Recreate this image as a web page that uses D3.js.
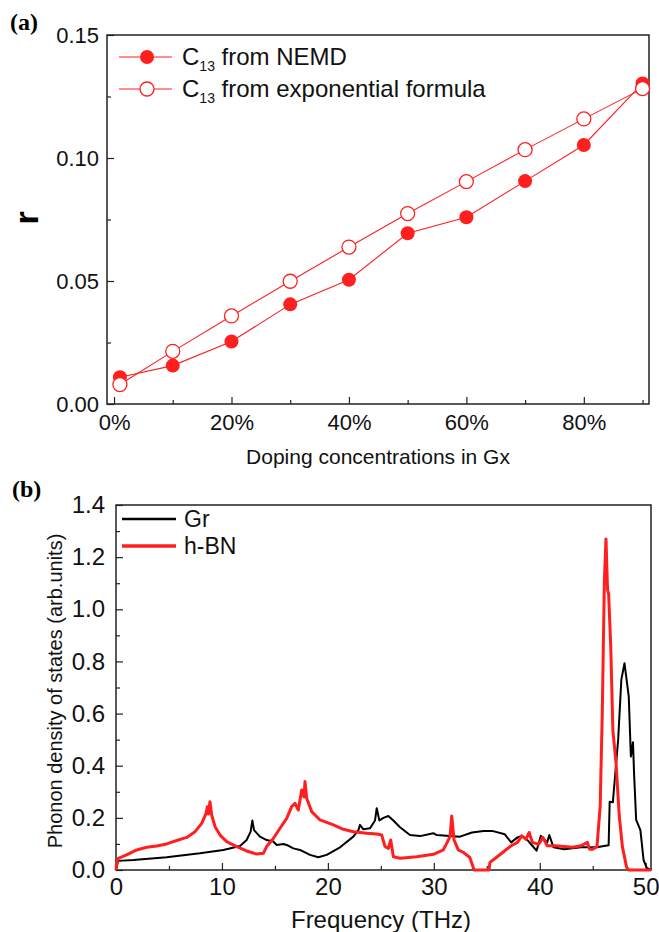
<!DOCTYPE html>
<html>
<head>
<meta charset="utf-8">
<script src="https://cdn.jsdelivr.net/npm/d3@7"></script>
<style>
  html, body { margin: 0; padding: 0; background: #fff; }
  svg { display: block; font-family: "Liberation Sans", Arial, sans-serif; }
</style>
</head>
<body>
<svg id="chart" width="659" height="932"></svg>
<script>
// ---- panel (a) data
const dopingPct = [1, 10, 20, 30, 40, 50, 60, 70, 80, 90];
const c13Nemd = [0.0109, 0.0156, 0.0254, 0.0405, 0.0505, 0.0694, 0.0759, 0.0906, 0.1053, 0.1303];
const c13Exp = [0.0079, 0.0214, 0.0358, 0.0499, 0.0638, 0.0774, 0.0904, 0.1034, 0.1159, 0.1282];
const pctTicks = [0, 20, 40, 60, 80];
const pctMinor = [10, 30, 50, 70, 90];
const rTicks = [0, 0.05, 0.10, 0.15];
const rMinor = [0.025, 0.075, 0.125];

// ---- panel (b) data (phonon DOS)
const grFreq = [0, 0.2, 1.64, 4.78, 7.93, 10.13, 11.71, 12.33, 12.71, 12.87, 13.03, 13.59, 14.22, 14.85, 15.17, 15.8, 16.11, 16.74, 17.37, 18.31, 19.1, 19.89, 21.15, 22.4, 22.88, 23.03, 23.35, 23.98, 24.45, 24.61, 24.86, 25.24, 25.71, 26.18, 26.81, 27.75, 28.7, 29.96, 30.27, 32.47, 33.6, 34.7, 35.5, 36.7, 37.3, 37.9, 38.3, 38.9, 39.3, 39.7, 40.1, 40.7, 40.9, 41.3, 42.3, 43.9, 45.4, 46.2, 46.5, 46.6, 46.9, 47.4, 47.7, 48.0, 48.4, 48.6, 48.8, 48.9, 49.1, 49.5, 49.8, 50.1, 50.5];
const grDos = [0, 0.035, 0.038, 0.049, 0.064, 0.077, 0.092, 0.115, 0.147, 0.19, 0.153, 0.128, 0.115, 0.109, 0.096, 0.1, 0.096, 0.083, 0.077, 0.058, 0.049, 0.058, 0.087, 0.128, 0.153, 0.173, 0.156, 0.16, 0.19, 0.237, 0.19, 0.2, 0.207, 0.19, 0.164, 0.134, 0.13, 0.141, 0.134, 0.128, 0.144, 0.15, 0.15, 0.137, 0.106, 0.125, 0.131, 0.112, 0.093, 0.074, 0.131, 0.106, 0.134, 0.087, 0.08, 0.087, 0.087, 0.093, 0.095, 0.262, 0.26, 0.5, 0.73, 0.793, 0.665, 0.435, 0.49, 0.372, 0.192, 0.153, 0.038, 0.008, 0];
const bnFreq = [0, 0.06, 0.22, 1.0, 1.95, 2.9, 3.84, 4.78, 5.73, 6.67, 7.46, 8.09, 8.5, 8.62, 8.72, 8.87, 9.03, 9.35, 9.82, 10.45, 11.39, 12.33, 13.28, 13.91, 14.22, 14.85, 15.48, 16.11, 16.58, 16.9, 17.21, 17.53, 17.75, 17.84, 18.0, 18.47, 19.26, 20.52, 21.46, 22.4, 23.66, 24.61, 25.08, 25.39, 25.71, 25.93, 26.18, 26.81, 28.38, 29.96, 30.9, 31.53, 31.69, 31.91, 32.31, 32.8, 33.4, 33.8, 35.2, 35.3, 35.9, 36.7, 37.3, 37.9, 38.3, 38.7, 39.0, 39.3, 39.9, 40.3, 40.7, 41.5, 43.1, 43.9, 44.5, 44.7, 45.0, 45.4, 45.7, 45.9, 46.1, 46.25, 46.4, 46.5, 46.7, 46.9, 47.2, 47.5, 47.8, 48.2, 48.4, 50.5];
const bnDos = [0, 0.026, 0.045, 0.058, 0.077, 0.087, 0.092, 0.1, 0.113, 0.125, 0.147, 0.179, 0.217, 0.243, 0.215, 0.262, 0.211, 0.166, 0.134, 0.109, 0.09, 0.073, 0.061, 0.064, 0.09, 0.121, 0.16, 0.198, 0.243, 0.256, 0.23, 0.307, 0.28, 0.339, 0.275, 0.224, 0.192, 0.173, 0.156, 0.147, 0.141, 0.138, 0.134, 0.09, 0.083, 0.115, 0.051, 0.045, 0.051, 0.06, 0.077, 0.128, 0.207, 0.115, 0.077, 0.067, 0.048, 0, 0, 0.029, 0.048, 0.074, 0.093, 0.106, 0.131, 0.118, 0.144, 0.106, 0.099, 0.125, 0.093, 0.093, 0.087, 0.093, 0.106, 0.08, 0.08, 0.089, 0.243, 0.6, 1.11, 1.27, 1.074, 1.06, 0.857, 0.537, 0.41, 0.21, 0.089, 0.01, 0, 0];
const freqTicks = [0, 10, 20, 30, 40, 50];
const freqMinor = [5, 15, 25, 35, 45];
const dosTicks = [0, 0.2, 0.4, 0.6, 0.8, 1.0, 1.2, 1.4];
const dosMinor = [0.1, 0.3, 0.5, 0.7, 0.9, 1.1, 1.3];

const svg = d3.select("#chart");
const RED = "#ff1f1f";

// boxed frame, ticks pointing inward, majors + minors
function drawFrame(g, x, y, opt) {
  const [x0, x1] = x.range();
  const [y0, y1] = y.range();

  g.append("g")
    .attr("transform", `translate(0,${y0})`)
    .call(d3.axisBottom(x).tickValues(opt.xMinor).tickSize(-4).tickFormat(""))
    .call(a => a.select(".domain").remove());
  g.append("g")
    .attr("transform", `translate(0,${y0})`)
    .call(d3.axisBottom(x).tickValues(opt.xTicks).tickSize(-7).tickPadding(opt.xPad).tickFormat(opt.xFmt))
    .call(a => a.select(".domain").remove())
    .selectAll("text").attr("font-size", opt.font).attr("fill", "#111");

  g.append("g")
    .attr("transform", `translate(${x0},0)`)
    .call(d3.axisLeft(y).tickValues(opt.yMinor).tickSize(-4).tickFormat(""))
    .call(a => a.select(".domain").remove());
  g.append("g")
    .attr("transform", `translate(${x0},0)`)
    .call(d3.axisLeft(y).tickValues(opt.yTicks).tickSize(-7).tickPadding(opt.yPad).tickFormat(opt.yFmt))
    .call(a => a.select(".domain").remove())
    .selectAll("text").attr("font-size", opt.font).attr("fill", "#111");

  g.selectAll(".tick line").attr("stroke", "#222").attr("stroke-width", 1.2);

  g.append("rect")
    .attr("x", x0).attr("y", y1)
    .attr("width", x1 - x0).attr("height", y0 - y1)
    .attr("fill", "none").attr("stroke", "#222").attr("stroke-width", 1.5);
}

// ================= panel (a)
const xTop = d3.scaleLinear().domain([-1.2, 91.1]).range([107, 649]);
const yTop = d3.scaleLinear().domain([0, 0.15]).range([404, 35]);
const gA = svg.append("g");

drawFrame(gA, xTop, yTop, {
  xTicks: pctTicks, xMinor: pctMinor, yTicks: rTicks, yMinor: rMinor,
  xFmt: d => d + "%", yFmt: d3.format(".2f"), font: 22, xPad: 10, yPad: 8
});

const lineTop = d3.line().x(d => xTop(d[0])).y(d => yTop(d[1]));
const nemdPts = dopingPct.map((p, i) => [p, c13Nemd[i]]);
const expPts = dopingPct.map((p, i) => [p, c13Exp[i]]);

gA.append("path").datum(nemdPts).attr("d", lineTop)
  .attr("fill", "none").attr("stroke", RED).attr("stroke-width", 1.1);
gA.append("path").datum(expPts).attr("d", lineTop)
  .attr("fill", "none").attr("stroke", RED).attr("stroke-width", 1.1);

gA.selectAll("circle.nemd").data(nemdPts).join("circle")
  .attr("class", "nemd")
  .attr("cx", d => xTop(d[0])).attr("cy", d => yTop(d[1]))
  .attr("r", 7).attr("fill", RED);
gA.selectAll("circle.exp").data(expPts).join("circle")
  .attr("class", "exp")
  .attr("cx", d => xTop(d[0])).attr("cy", d => yTop(d[1]))
  .attr("r", 7).attr("fill", "#fff").attr("stroke", RED).attr("stroke-width", 1.3);

// legend (a)
const legA = [
  { label: " from NEMD", filled: true, y: 57 },
  { label: " from exponential formula", filled: false, y: 89 }
];
legA.forEach(d => {
  gA.append("line").attr("x1", 119).attr("x2", 172).attr("y1", d.y).attr("y2", d.y)
    .attr("stroke", RED).attr("stroke-width", 1.1);
  gA.append("circle").attr("cx", 147).attr("cy", d.y).attr("r", 7)
    .attr("fill", d.filled ? RED : "#fff").attr("stroke", RED).attr("stroke-width", d.filled ? 0 : 1.3);
  const t = gA.append("text").attr("x", 182).attr("y", d.y + 8).attr("font-size", 24).attr("fill", "#111");
  t.append("tspan").text("C");
  t.append("tspan").attr("font-size", 14).attr("dy", 6).text("13");
  t.append("tspan").attr("dy", -6).text(d.label);
});

svg.append("text").attr("x", 10).attr("y", 30)
  .attr("font-family", "'Liberation Serif', 'DejaVu Serif', serif")
  .attr("font-weight", "bold").attr("font-size", 24).text("(a)");

svg.append("text").attr("transform", "translate(38,218) rotate(-90)")
  .attr("text-anchor", "middle").attr("font-weight", "bold").attr("font-size", 34).text("r");

svg.append("text").attr("x", (107 + 649) / 2).attr("y", 464)
  .attr("text-anchor", "middle").attr("font-size", 21).attr("fill", "#111")
  .text("Doping concentrations in Gx");

// ================= panel (b)
const xBot = d3.scaleLinear().domain([0, 50.5]).range([116, 651]);
const yBot = d3.scaleLinear().domain([0, 1.4]).range([870, 505]);
const gB = svg.append("g");

drawFrame(gB, xBot, yBot, {
  xTicks: freqTicks, xMinor: freqMinor, yTicks: dosTicks, yMinor: dosMinor,
  xFmt: d3.format("d"), yFmt: d3.format(".1f"), font: 24, xPad: 8, yPad: 11
});

const lineBot = d3.line().x(d => xBot(d[0])).y(d => yBot(d[1]));
const grPts = grFreq.map((f, i) => [f, grDos[i]]);
const bnPts = bnFreq.map((f, i) => [f, bnDos[i]]);

gB.append("path").datum(grPts).attr("d", lineBot)
  .attr("fill", "none").attr("stroke", "#000").attr("stroke-width", 2).attr("stroke-linejoin", "round");
gB.append("path").datum(bnPts).attr("d", lineBot)
  .attr("fill", "none").attr("stroke", RED).attr("stroke-width", 3).attr("stroke-linejoin", "round");

// legend (b)
const legB = [
  { label: "Gr", color: "#000", w: 2.5, y: 519 },
  { label: "h-BN", color: RED, w: 3.5, y: 546 }
];
legB.forEach(d => {
  gB.append("line").attr("x1", 122).attr("x2", 176).attr("y1", d.y).attr("y2", d.y)
    .attr("stroke", d.color).attr("stroke-width", d.w);
  gB.append("text").attr("x", 184).attr("y", d.y + 8).attr("font-size", 23).attr("fill", "#111").text(d.label);
});

svg.append("text").attr("x", 12).attr("y", 497)
  .attr("font-family", "'Liberation Serif', 'DejaVu Serif', serif")
  .attr("font-weight", "bold").attr("font-size", 24).text("(b)");

svg.append("text").attr("transform", "translate(62,691) rotate(-90)")
  .attr("text-anchor", "middle").attr("font-size", 20).attr("fill", "#111")
  .text("Phonon density of states (arb.units)");

svg.append("text").attr("x", 381).attr("y", 928)
  .attr("text-anchor", "middle").attr("font-size", 24).attr("fill", "#111")
  .text("Frequency (THz)");
</script>
</body>
</html>
